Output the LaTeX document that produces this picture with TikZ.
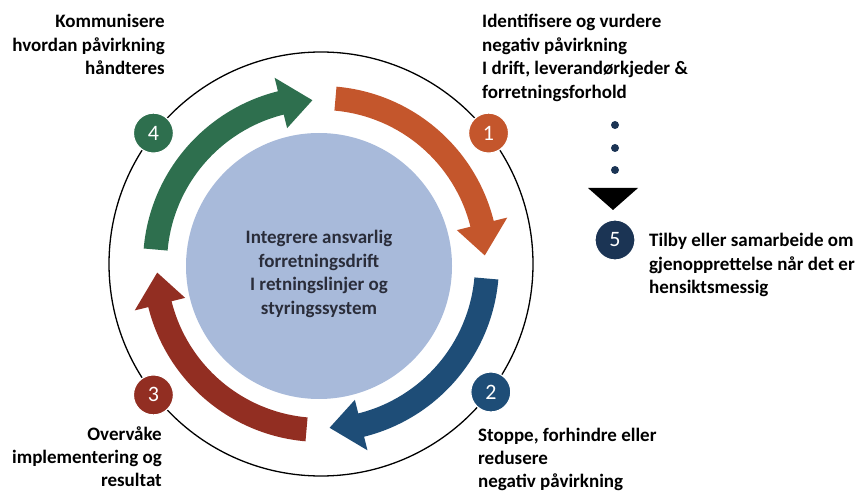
\documentclass[tikz,border=0pt]{standalone}
\usepackage{fontspec}
\setmainfont{Carlito}
\definecolor{corange}{HTML}{C4562C}
\definecolor{cblue}{HTML}{1E4D77}
\definecolor{cred}{HTML}{922E22}
\definecolor{cgreen}{HTML}{2E6F4E}
\definecolor{ccore}{HTML}{A8BADA}
\definecolor{cnavy}{HTML}{1B3454}
\definecolor{ctext}{HTML}{2A2D3A}
\newcommand{\ringarrow}[4]{%
  \fill[#1] (#2:178) arc[start angle=#2, end angle=#3, radius=178]
    -- (#3:192) -- (#4:164) -- (#3:140) -- (#3:154)
    arc[start angle=#3, end angle=#2, radius=154] -- cycle;}
\tikzset{
  lbl/.style={inner sep=0pt, font=\fontsize{19}{23.5}\selectfont\bfseries, text=black},
  lowlbl/.style={inner sep=0pt, font=\fontsize{19}{22.8}\selectfont\bfseries, text=black},
  numdot/.style={circle, draw=white, line width=1.2pt, minimum size=40pt, inner sep=0pt,
    text=white, font=\fontsize{22}{22}\selectfont},
  smalldot/.style={circle, fill=cnavy, minimum size=8pt, inner sep=0pt}
}
\begin{document}
\begin{tikzpicture}[x=1pt,y=1pt]
\useasboundingbox (0,0) rectangle (862,493);
% outer ring
\node[circle, draw=black, line width=1.3pt, minimum size=424pt, inner sep=0pt] (ring) at (321,229) {};
% core
\node[circle, fill=ccore, minimum size=266pt, inner sep=0pt] (core) at (319,227) {};
\node[lbl, align=center, text=ctext] (coretext) at (319,219)
  {Integrere ansvarlig\\forretningsdrift\\I retningslinjer og\\styringssystem};
% arrows
\begin{scope}[shift={(321,229)}]
  \ringarrow{corange}{85}{14}{3}
  \ringarrow{cblue}{-5}{-76}{-87}
  \ringarrow{cred}{-95}{-166}{-177}
  \ringarrow{cgreen}{175}{104}{93}
\end{scope}
% numbered dots
\node[numdot, fill=corange] (n1) at (ring.38) {1};
\node[numdot, fill=cblue] (n2) at (ring.-37.5) {2};
\node[numdot, fill=cred] (n3) at (ring.-142) {3};
\node[numdot, fill=cgreen] (n4) at (ring.142) {4};
% step 5
\node[smalldot] (d1) at (615,368) {};
\node[smalldot] (d2) at (615,345) {};
\node[smalldot] (d3) at (615,323) {};
\fill[black] (588,305) -- (638,305) -- (613,283) -- cycle;
\node[numdot, fill=cnavy] (n5) at (615,253) {5};
% labels
\node[lbl, align=right, anchor=north east] (t4) at (165,479)
  {Kommunisere\\hvordan påvirkning\\håndteres};
\node[lbl, align=left, anchor=north west] (t1) at (482,479)
  {Identifisere og vurdere\\negativ påvirkning\\I drift, leverandørkjeder \&\\forretningsforhold};
\node[lowlbl, align=right, anchor=north east] (t3) at (162,66)
  {Overvåke\\implementering og\\resultat};
\node[lowlbl, align=left, anchor=north west] (t2) at (478,65)
  {Stoppe, forhindre eller\\redusere\\negativ påvirkning};
\node[lbl, align=left, anchor=north west] (t5) at (649,260)
  {Tilby eller samarbeide om\\gjenopprettelse når det er\\hensiktsmessig};
\end{tikzpicture}
\end{document}
